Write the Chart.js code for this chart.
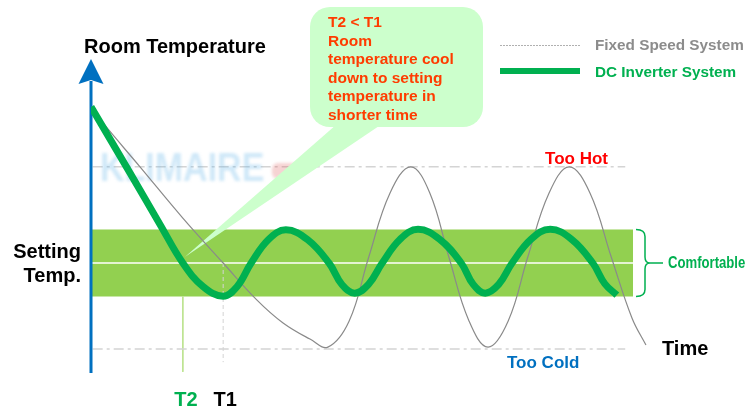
<!DOCTYPE html>
<html>
<head>
<meta charset="utf-8">
<script src="https://cdn.jsdelivr.net/npm/chart.js@4/dist/chart.umd.min.js"></script>
<style>
  html, body { margin: 0; padding: 0; background: #fff; }
</style>
</head>
<body>
<canvas id="chart" width="749" height="412"></canvas>
<script>
// time runs 0..100, temperature is in "band half-widths" around the set point (0)
const inverterTime = [0, 6.96, 12.3, 16.4, 20.0, 23.6, 26.1, 28.6, 31.7, 34.8, 38.65, 42.5, 44.8, 47.1, 49.55, 52.0, 55.2, 58.4, 62.25, 66.1, 68.25, 70.4, 72.8, 75.2, 78.6, 82.0, 85.8, 89.6, 91.75, 93.9]
const inverterTemp = [4.66, 2.69, 1.16, 0, -0.7, -0.99, -0.7, 0, 0.7, 0.99, 0.7, 0, -0.64, -0.9, -0.64, 0, 0.71, 1.01, 0.71, 0, -0.64, -0.9, -0.64, 0, 0.71, 1.01, 0.71, 0, -0.62, -0.96]

const fixedTime = [0, 2.14, 8.75, 16.4, 23.6, 29.6, 34.3, 39.1, 42.3, 46.1, 49.6, 53.4, 57.1, 60.5, 63.9, 67.5, 70.9, 74.5, 78.0, 81.8, 85.4, 89.1, 92.9, 96.6, 99.1]
const fixedTemp = [4.66, 4.18, 2.87, 1.34, 0, -1.1, -1.79, -2.27, -2.51, -1.73, 0.18, 2.09, 2.87, 2.09, 0.18, -1.73, -2.51, -1.73, 0.18, 2.09, 2.87, 2.09, 0.18, -1.64, -2.45]

const settingTemp = 0
const comfortBand = [-1, 1]
const tooHot = 2.87
const tooCold = -2.57
const t2 = 16.4
const t1 = 23.6
const bandEnd = 96.8
const refEnd = 95.4
const axisRange = [-3.28, 6.09]

const calloutLines = ['T2 < T1', 'Room', 'temperature cool', 'down to setting', 'temperature in', 'shorter time']

const FONT = '"Liberation Sans", Arial, sans-serif'
const GREEN = '#00b050'
const REF = '#d4d4d4'

const toPoints = (xs, ys) => xs.map((x, i) => ({ x: x, y: ys[i] }))
const hLine = (y, x0, x1) => [{ x: x0, y: y }, { x: x1, y: y }]
const vLine = (x, y0, y1) => [{ x: x, y: y0 }, { x: x, y: y1 }]

const text = (ctx, str, x, y, size, color, align) => {
  ctx.font = `bold ${size}px ${FONT}`
  ctx.fillStyle = color
  ctx.textAlign = align || 'left'
  ctx.textBaseline = 'alphabetic'
  ctx.fillText(str, x, y)
}

const drawBackground = (chart) => {
  const ctx = chart.ctx
  const xs = chart.scales.x
  const ys = chart.scales.y
  ctx.save()

  // watermark
  ctx.save()
  ctx.filter = 'blur(1.6px)'
  ctx.globalAlpha = 0.3
  ctx.translate(100, 181)
  ctx.scale(0.85, 1)
  text(ctx, 'KLIMAIRE', 0, 0, 40, '#5fb4e8')
  ctx.restore()
  ctx.save()
  ctx.filter = 'blur(1.6px)'
  ctx.globalAlpha = 0.28
  ctx.fillStyle = '#e06060'
  ctx.beginPath()
  ctx.roundRect(272, 163, 26, 16, 6)
  ctx.fill()
  ctx.restore()

  // y axis with arrow
  const ax = xs.getPixelForValue(0)
  const top = ys.getPixelForValue(axisRange[1])
  ctx.strokeStyle = '#0070c0'
  ctx.lineWidth = 3
  ctx.beginPath()
  ctx.moveTo(ax, ys.getPixelForValue(axisRange[0]))
  ctx.lineTo(ax, top + 22)
  ctx.stroke()
  ctx.fillStyle = '#0070c0'
  ctx.beginPath()
  ctx.moveTo(ax, top)
  ctx.lineTo(ax + 12.5, top + 25)
  ctx.lineTo(ax, top + 21)
  ctx.lineTo(ax - 12.5, top + 25)
  ctx.closePath()
  ctx.fill()

  // callout bubble and its tail
  ctx.fillStyle = '#ccffcc'
  ctx.beginPath()
  ctx.roundRect(310, 7, 173, 120, 20)
  ctx.fill()
  ctx.beginPath()
  ctx.moveTo(337, 124)
  ctx.lineTo(382, 124)
  ctx.lineTo(xs.getPixelForValue(t2) + 2, ys.getPixelForValue(0.18))
  ctx.closePath()
  ctx.fill()
  calloutLines.forEach((line, i) => {
    text(ctx, line, 328, 27 + i * 18.5, 15.5, '#ff3c00')
  })
  ctx.restore()
}

const drawLabels = (chart) => {
  const ctx = chart.ctx
  const xs = chart.scales.x
  const ys = chart.scales.y
  ctx.save()

  text(ctx, 'Room Temperature', 84, 53, 20, '#000')
  text(ctx, 'Setting', 81, 258, 20, '#000', 'right')
  text(ctx, 'Temp.', 81, 282, 20, '#000', 'right')
  text(ctx, 'Time', 662, 355, 20, '#000')
  text(ctx, 'Too Hot', 608, ys.getPixelForValue(tooHot) - 3, 17, '#ff0000', 'right')
  text(ctx, 'Too Cold', 507, ys.getPixelForValue(tooCold) + 19, 17, '#0070c0')
  text(ctx, 'T2', xs.getPixelForValue(t2) + 3, 406, 20, GREEN, 'center')
  text(ctx, 'T1', xs.getPixelForValue(t1) + 2, 406, 20, '#000', 'center')

  // legend
  ctx.strokeStyle = '#b0b0b0'
  ctx.lineWidth = 1
  ctx.setLineDash([2, 1])
  ctx.beginPath()
  ctx.moveTo(500, 45.5)
  ctx.lineTo(580, 45.5)
  ctx.stroke()
  ctx.setLineDash([])
  ctx.strokeStyle = GREEN
  ctx.lineWidth = 6
  ctx.beginPath()
  ctx.moveTo(500, 71)
  ctx.lineTo(580, 71)
  ctx.stroke()
  text(ctx, 'Fixed Speed System', 595, 50, 15.3, '#8c8c8c')
  text(ctx, 'DC Inverter System', 595, 77, 15.3, GREEN)

  // comfortable bracket
  const bt = ys.getPixelForValue(comfortBand[1])
  const bb = ys.getPixelForValue(comfortBand[0])
  const bm = ys.getPixelForValue(settingTemp)
  ctx.strokeStyle = GREEN
  ctx.lineWidth = 1.5
  ctx.beginPath()
  ctx.moveTo(636, bt)
  ctx.quadraticCurveTo(645, bt, 645, bt + 7)
  ctx.lineTo(645, bm - 6)
  ctx.quadraticCurveTo(645, bm, 650, bm)
  ctx.lineTo(663, bm)
  ctx.moveTo(650, bm)
  ctx.quadraticCurveTo(645, bm, 645, bm + 6)
  ctx.lineTo(645, bb - 7)
  ctx.quadraticCurveTo(645, bb, 636, bb)
  ctx.stroke()
  ctx.save()
  ctx.translate(668, bm + 5)
  ctx.scale(0.82, 1)
  text(ctx, 'Comfortable', 0, 0, 16, GREEN)
  ctx.restore()

  ctx.restore()
}

const overlay = {
  id: 'overlay',
  beforeDatasetDraw(chart, args) {
    if (chart.data.datasets[args.index].label === 'Fixed Speed System') drawBackground(chart)
  },
  afterDraw(chart) {
    drawLabels(chart)
  },
}

const flat = { pointRadius: 0, showLine: true, fill: false }

const config = {
  type: 'scatter',
  data: {
    datasets: [
      {
        ...flat,
        label: 'DC Inverter System',
        data: toPoints(inverterTime, inverterTemp),
        borderColor: GREEN,
        borderWidth: 7,
        borderCapStyle: 'butt',
        tension: 0.4,
        order: 0,
      },
      {
        ...flat,
        label: 'Fixed Speed System',
        data: toPoints(fixedTime, fixedTemp),
        borderColor: '#8a8a8a',
        borderWidth: 1.2,
        tension: 0.4,
        order: 1,
      },
      { ...flat, label: 'set', data: hLine(settingTemp, 0, bandEnd), borderColor: '#ffffff', borderWidth: 1.5, order: 3 },
      { ...flat, label: 'hot', data: hLine(tooHot, 0.3, refEnd), borderColor: REF, borderWidth: 1.5, borderDash: [10, 4, 3, 4], order: 3 },
      { ...flat, label: 'cold', data: hLine(tooCold, 0.3, refEnd), borderColor: REF, borderWidth: 1.5, borderDash: [10, 4, 3, 4], order: 3 },
      { ...flat, label: 'T1', data: vLine(t1, settingTemp, -2.96), borderColor: REF, borderWidth: 1, borderDash: [4, 3], order: 3 },
      { ...flat, label: 'T2', data: vLine(t2, comfortBand[0], -3.25), borderColor: '#bce38f', borderWidth: 1, order: 3 },
      {
        ...flat,
        label: 'band',
        data: hLine(comfortBand[1], 0, bandEnd),
        borderWidth: 0,
        backgroundColor: '#92d050',
        fill: { value: comfortBand[0] },
        order: 10,
      },
    ],
  },
  options: {
    responsive: false,
    animation: false,
    devicePixelRatio: 1,
    layout: { padding: { left: 91, right: 98, top: 78.75, bottom: 31.75 } },
    plugins: { legend: { display: false }, tooltip: { enabled: false } },
    scales: {
      x: { type: 'linear', min: 0, max: 100, display: false },
      y: { type: 'linear', min: -3.5, max: 5.5, display: false },
    },
  },
  plugins: [overlay],
}

new Chart(document.getElementById('chart'), config)
</script>
</body>
</html>
